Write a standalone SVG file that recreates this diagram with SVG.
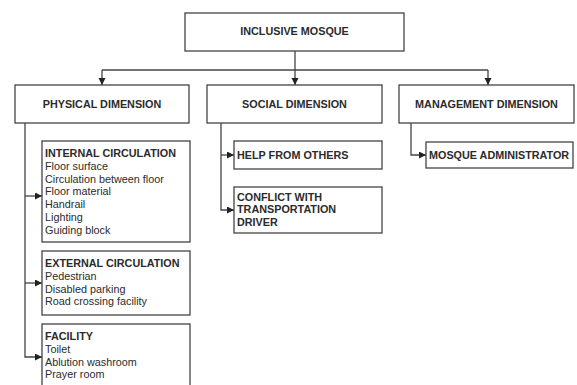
<svg xmlns="http://www.w3.org/2000/svg" width="577" height="385" viewBox="0 0 577 385">
<style>
.box{fill:#fff;stroke:#444;stroke-width:1.3}
.t{font-family:"Liberation Sans",Arial,sans-serif;font-size:10.8px;fill:#2b2b2b}
.b{font-weight:bold}
.c{text-anchor:middle}
.ln{fill:none;stroke:#444;stroke-width:1.3}
</style>
<defs>
<marker id="ah" markerUnits="userSpaceOnUse" markerWidth="8" markerHeight="8" refX="7" refY="3.5" orient="auto">
<path d="M0,0 L7,3.5 L0,7 z" fill="#222"/>
</marker>
</defs>
<rect width="577" height="385" fill="#fff"/>
<g id="connectors">
<path class="ln" d="M295,51 V70"/>
<path class="ln" d="M102,70 H488"/>
<path class="ln" d="M102,70 V85" marker-end="url(#ah)"/>
<path class="ln" d="M295,70 V85" marker-end="url(#ah)"/>
<path class="ln" d="M488,70 V85" marker-end="url(#ah)"/>
<path class="ln" d="M25,123 V357 H42" marker-end="url(#ah)"/>
<path class="ln" d="M25,196 H42" marker-end="url(#ah)"/>
<path class="ln" d="M25,283 H42" marker-end="url(#ah)"/>
<path class="ln" d="M221,123 V210 H234" marker-end="url(#ah)"/>
<path class="ln" d="M221,155 H234" marker-end="url(#ah)"/>
<path class="ln" d="M411,123 V155 H426" marker-end="url(#ah)"/>
</g>
<g id="inclusive-mosque">
<rect class="box" x="185" y="13" width="219" height="38"/>
<text class="t b c" x="294.5" y="35">INCLUSIVE MOSQUE</text>
</g>
<g id="physical-dimension">
<rect class="box" x="15" y="85" width="174" height="38"/>
<text class="t b c" x="102" y="108">PHYSICAL DIMENSION</text>
</g>
<g id="social-dimension">
<rect class="box" x="207" y="85" width="175" height="38"/>
<text class="t b c" x="294.5" y="108">SOCIAL DIMENSION</text>
</g>
<g id="management-dimension">
<rect class="box" x="399" y="85" width="175" height="38"/>
<text class="t b c" x="486.5" y="108">MANAGEMENT DIMENSION</text>
</g>
<g id="internal-circulation">
<rect class="box" x="42" y="141" width="148" height="101"/>
<text class="t b" x="45" y="157">INTERNAL CIRCULATION</text>
<text class="t" x="45" y="169.8">Floor surface</text>
<text class="t" x="45" y="182.6">Circulation between floor</text>
<text class="t" x="45" y="195.4">Floor material</text>
<text class="t" x="45" y="208.2">Handrail</text>
<text class="t" x="45" y="221">Lighting</text>
<text class="t" x="45" y="233.8">Guiding block</text>
</g>
<g id="external-circulation">
<rect class="box" x="42" y="251" width="148" height="64"/>
<text class="t b" x="45" y="267">EXTERNAL CIRCULATION</text>
<text class="t" x="45" y="279.8">Pedestrian</text>
<text class="t" x="45" y="292.6">Disabled parking</text>
<text class="t" x="45" y="305.4">Road crossing facility</text>
</g>
<g id="facility">
<rect class="box" x="42" y="324" width="148" height="80"/>
<text class="t b" x="45" y="340">FACILITY</text>
<text class="t" x="45" y="352.8">Toilet</text>
<text class="t" x="45" y="365.6">Ablution washroom</text>
<text class="t" x="45" y="378.4">Prayer room</text>
</g>
<g id="help-from-others">
<rect class="box" x="234" y="141" width="148" height="28"/>
<text class="t b" x="237" y="158.5">HELP FROM OTHERS</text>
</g>
<g id="conflict-driver">
<rect class="box" x="234" y="187" width="148" height="46"/>
<text class="t b" x="237" y="200.5">CONFLICT WITH</text>
<text class="t b" x="237" y="213.3">TRANSPORTATION</text>
<text class="t b" x="237" y="226.1">DRIVER</text>
</g>
<g id="mosque-administrator">
<rect class="box" x="426" y="142" width="147" height="26"/>
<text class="t b" x="429" y="159">MOSQUE ADMINISTRATOR</text>
</g>
</svg>
